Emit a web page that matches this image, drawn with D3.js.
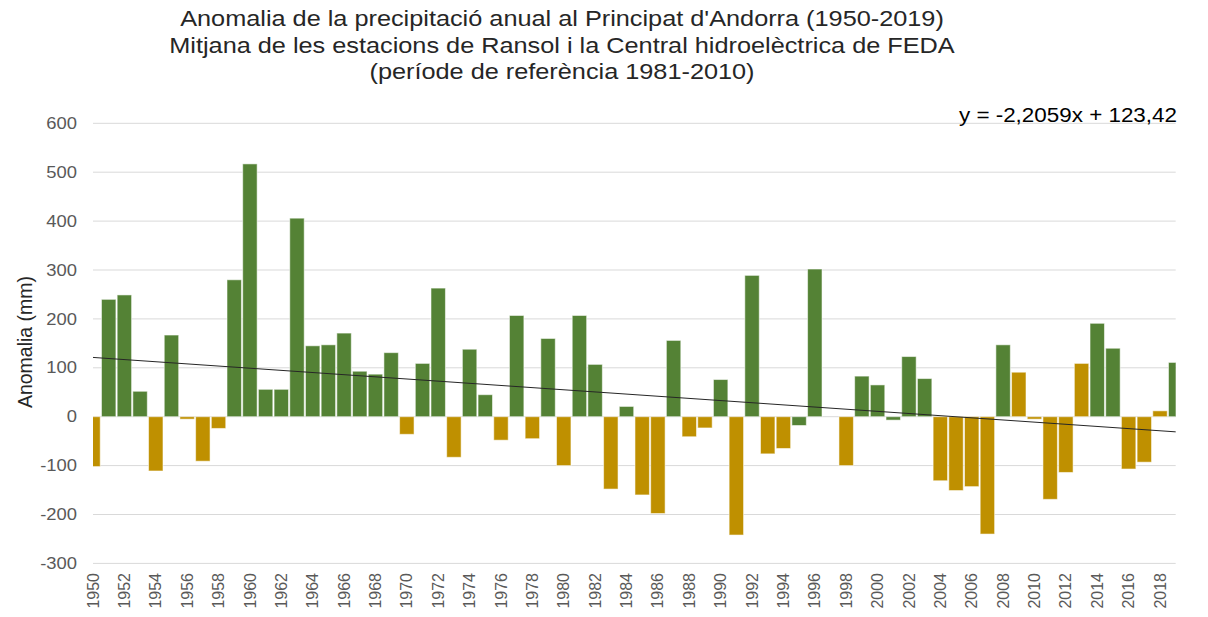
<!DOCTYPE html>
<html>
<head>
<meta charset="utf-8">
<script src="https://cdn.jsdelivr.net/npm/d3@7"></script>
<style>
  body { margin: 0; background: #fff; }
  text { font-family: "Liberation Sans", Arial, sans-serif; }
</style>
</head>
<body>
<div id="chart"></div>
<script>
const years = d3.range(1950, 2020);
const anomalies = [
  -102, 240, 249, 52, -111, 167, -5, -91, -24, 280,
  517, 56, 56, 406, 145, 147, 171, 93, 87, 131,
  -36, 109, 263, -83, 138, 45, -48, 207, -45, 160,
  -100, 207, 107, -148, 21, -160, -198, 156, -41, -23,
  76, -242, 289, -76, -65, -18, 302, 0, -100, 83,
  65, -7, 123, 78, -131, -151, -143, -240, 147, 91,
  -5, -169, -114, 109, 191, 140, -107, -93, 12, 111
];
// years drawn in gold (the rest in green)
const goldYears = [1950, 1954, 1956, 1957, 1958, 1970, 1973, 1976, 1978, 1980,
  1983, 1985, 1986, 1988, 1989, 1991, 1993, 1994, 1998, 2004, 2005, 2006, 2007,
  2009, 2010, 2011, 2012, 2013, 2016, 2017, 2018];
const yTicks = [-300, -200, -100, 0, 100, 200, 300, 400, 500, 600];
const trend = { slope: -2.2059, intercept: 123.42 };
const titleLines = [
  "Anomalia de la precipitació anual al Principat d'Andorra (1950-2019)",
  "Mitjana de les estacions de Ransol i la Central hidroelèctrica de FEDA",
  "(període de referència 1981-2010)"
];

const width = 1208, height = 617;
const margin = { top: 123.3, right: 32.3, bottom: 53.6, left: 93 };
const stretch = 1.15; // the original text is drawn a bit wide

const svg = d3.select("#chart")
  .append("svg")
    .attr("width", width)
    .attr("height", height);

const x = d3.scaleLinear()
  .domain([1950, 2019])
  .range([margin.left, width - margin.right]);

const y = d3.scaleLinear()
  .domain([-300, 600])
  .range([height - margin.bottom, margin.top]);

const step = x(1951) - x(1950);
const barWidth = step * 0.92;

// gridlines
svg.append("g")
  .selectAll("line")
  .data(yTicks)
  .join("line")
    .attr("x1", margin.left)
    .attr("x2", width - margin.right)
    .attr("y1", d => y(d))
    .attr("y2", d => y(d))
    .attr("stroke", "#d9d9d9")
    .attr("stroke-width", 1);

// y tick labels
svg.append("g")
  .selectAll("text")
  .data(yTicks)
  .join("text")
    .attr("transform", d => `translate(77, ${y(d)}) scale(${stretch}, 1)`)
    .attr("dy", "0.35em")
    .attr("text-anchor", "end")
    .attr("fill", "#595959")
    .style("font-size", "16px")
    .text(d => d);

svg.append("clipPath")
  .attr("id", "plot-clip")
  .append("rect")
    .attr("x", margin.left)
    .attr("y", 0)
    .attr("width", width - margin.right - margin.left)
    .attr("height", height);

const data = years.map((yr, i) => ({ year: yr, value: anomalies[i] }));

svg.append("g")
  .attr("clip-path", "url(#plot-clip)")
  .selectAll("rect")
  .data(data.filter(d => d.value !== 0))
  .join("rect")
    .attr("x", d => x(d.year) - barWidth / 2)
    .attr("width", barWidth)
    .attr("y", d => y(Math.max(0, d.value)))
    .attr("height", d => Math.abs(y(d.value) - y(0)))
    .attr("fill", d => goldYears.includes(d.year) ? "#bf9000" : "#548235")
    .attr("stroke", "#ffffff")
    .attr("stroke-opacity", 0.55)
    .attr("stroke-width", 1);

// linear trend, x = 1 for 1950
svg.append("line")
  .attr("x1", x(1950))
  .attr("x2", x(2019))
  .attr("y1", y(trend.slope * 1 + trend.intercept))
  .attr("y2", y(trend.slope * 70 + trend.intercept))
  .attr("stroke", "#262626")
  .attr("stroke-width", 1);

// x tick labels
svg.append("g")
  .selectAll("text")
  .data(years.filter(d => (d - 1950) % 2 === 0))
  .join("text")
    .attr("transform", d => `translate(${x(d)}, 573) rotate(-90)`)
    .attr("dy", "0.35em")
    .attr("text-anchor", "end")
    .attr("fill", "#595959")
    .style("font-size", "16px")
    .text(d => d);

// axis title
svg.append("text")
  .attr("transform", `translate(25, 342) rotate(-90)`)
  .attr("dy", "0.35em")
  .attr("text-anchor", "middle")
  .attr("fill", "#262626")
  .style("font-size", "19.5px")
  .text("Anomalia (mm)");

// title
svg.append("g")
  .selectAll("text")
  .data(titleLines)
  .join("text")
    .attr("transform", (d, i) => `translate(562, ${26 + i * 26.5}) scale(${stretch}, 1)`)
    .attr("text-anchor", "middle")
    .attr("fill", "#262626")
    .style("font-size", "22px")
    .text(d => d);

// trend equation
svg.append("text")
  .attr("transform", `translate(1177, 122) scale(${stretch}, 1)`)
  .attr("text-anchor", "end")
  .attr("fill", "#000")
  .style("font-size", "19.5px")
  .text(`y = ${String(trend.slope).replace(".", ",")}x + ${String(trend.intercept).replace(".", ",")}`);
</script>
</body>
</html>
